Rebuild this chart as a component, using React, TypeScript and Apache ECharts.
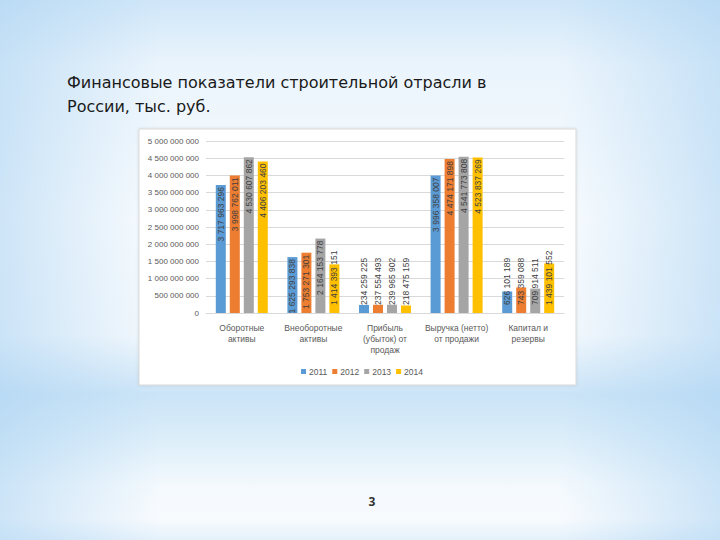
import React, { useEffect, useRef } from "react";
import * as echarts from "echarts";

const categories = [
  "Оборотные\nактивы",
  "Внеоборотные\nактивы",
  "Прибыль\n(убыток) от\nпродаж",
  "Выручка (нетто)\nот продажи",
  "Капитал и\nрезервы",
];
const years = ["2011", "2012", "2013", "2014"];
const v2011 = [3717963296, 1625293838, 234259225, 3996358007, 626101189];
const v2012 = [3998762011, 1753271301, 237554493, 4474171898, 743359088];
const v2013 = [4530607862, 2164153778, 239965902, 4541773808, 709914511];
const v2014 = [4406203460, 1414393151, 218475159, 4523837269, 1439101552];
const yTicks = [0, 500000000, 1000000000, 1500000000, 2000000000, 2500000000, 3000000000, 3500000000, 4000000000, 4500000000, 5000000000];

const seriesValues = [v2011, v2012, v2013, v2014];
const colors = ["#5B9BD5", "#ED7D31", "#A5A5A5", "#FFC000"];

const fmt = (v: number) => String(Math.round(v)).replace(/\B(?=(\d{3})+(?!\d))/g, " ");

export default function App() {
  const ref = useRef<HTMLDivElement>(null);
  useEffect(() => {
    document.body.style.margin = "0";
    if (!ref.current) return;
    const chart = echarts.init(ref.current, null, { renderer: "svg" });
    const font = "'Liberation Sans', Arial, sans-serif";
    chart.setOption({
      animation: false,
      backgroundColor: "transparent",
      textStyle: { fontFamily: font },
      graphic: [
        {
          type: "rect",
          z: -10,
          shape: { x: 139, y: 129, width: 437, height: 256 },
          style: { fill: "#ffffff", stroke: "#d9d9d9", lineWidth: 1, shadowBlur: 3, shadowColor: "rgba(0,0,0,0.12)" },
        },
        {
          type: "text",
          x: 67,
          y: 70,
          style: {
            text: "Финансовые показатели строительной отрасли в\nРоссии, тыс. руб.",
            fontFamily: "'DejaVu Sans', sans-serif",
            fontSize: 16,
            lineHeight: 24,
            fill: "#1a1a1a",
          },
        },
        {
          type: "text",
          x: 372,
          y: 495,
          style: {
            text: "3",
            fontFamily: "'Open Sans', sans-serif",
            fontSize: 12,
            fontWeight: "bold",
            fill: "#333333",
            align: "center",
          },
        },
      ],
      grid: { left: 206, right: 156, top: 141, bottom: 227, containLabel: false },
      legend: {
        left: 296,
        top: 362,
        itemWidth: 5,
        itemHeight: 5,
        itemGap: 5,
        icon: "rect",
        textStyle: { fontSize: 8.5, color: "#595959", fontFamily: font, padding: [0, 0, 0, -2] },
        data: years,
      },
      xAxis: {
        type: "category",
        data: categories,
        axisLine: { lineStyle: { color: "#d9d9d9" } },
        axisTick: { show: false },
        axisLabel: { interval: 0, fontSize: 8.5, color: "#595959", lineHeight: 11, margin: 9 },
      },
      yAxis: {
        type: "value",
        min: yTicks[0],
        max: yTicks[yTicks.length - 1],
        interval: yTicks[1] - yTicks[0],
        axisLine: { show: false },
        axisTick: { show: false },
        splitLine: { lineStyle: { color: "#d9d9d9" } },
        axisLabel: { fontSize: 8, color: "#595959", margin: 7, formatter: (v: number) => fmt(v) },
      },
      series: years.map((y, si) => ({
        name: y,
        type: "bar",
        barWidth: 10,
        barGap: "40%",
        itemStyle: { color: colors[si] },
        data: seriesValues[si].map((v) => {
          const tall = v >= 1600000000;
          return {
            value: v,
            label: tall
              ? { show: true, position: "insideTop", rotate: 90, align: "right", verticalAlign: "middle", distance: 2 }
              : { show: true, position: "insideBottom", rotate: 90, align: "left", verticalAlign: "middle", distance: 8 },
          };
        }),
        label: {
          show: true,
          fontSize: 8.5,
          color: "#404040",
          fontFamily: font,
          formatter: (p: any) => fmt(p.value),
        },
      })),
    });
    return () => chart.dispose();
  }, []);
  return (
    <div
      style={{
        width: 720,
        height: 540,
        position: "relative",
        overflow: "hidden",
        background:
          "linear-gradient(90deg, rgba(170,210,242,0.55) 0%, rgba(255,255,255,0) 22%, rgba(255,255,255,0) 78%, rgba(170,210,242,0.55) 100%), linear-gradient(180deg, #cfe6f8 0%, #eaf4fc 12%, #f9fcfe 40%, #f4f9fd 62%, #cbe4f7 73%, #d9ecf9 80%, #f3f9fd 90%, #f8fbfe 96%, #e4f1fb 100%)",
      }}
    >
      <div ref={ref} style={{ width: 720, height: 540, position: "absolute", left: 0, top: 0 }} />
    </div>
  );
}
